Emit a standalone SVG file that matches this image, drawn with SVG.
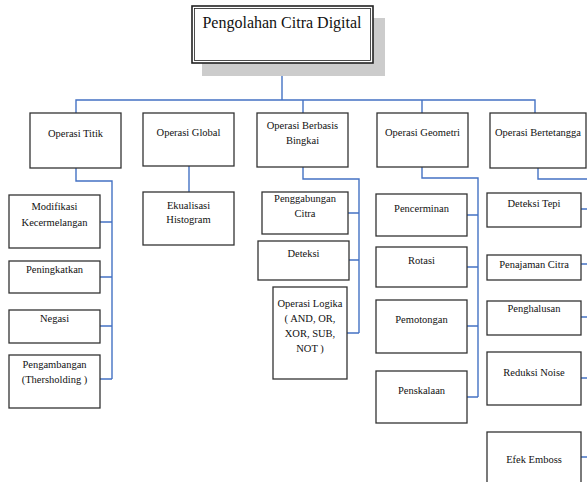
<svg xmlns="http://www.w3.org/2000/svg" width="587" height="482" viewBox="0 0 587 482" font-family="Liberation Serif, Times New Roman, serif">
<style>
.box{fill:#fff;stroke:#333;stroke-width:1.3}
.t{font-family:'Liberation Serif','Times New Roman',serif;font-size:10.5px;fill:#111;text-anchor:middle}
.c{fill:none;stroke:#4472C4;stroke-width:1.4}
</style>
<rect width="587" height="482" fill="#fff"/>
<g id="connectors">
<path class="c" d="M282,63 V100 M76,113 V100 H535 V113 M303,100 V113 M422,100 V113"/>
<path class="c" d="M76,168 V181 H112 V379 M100,222 H112 M100,277 H112 M100,326 H112 M100,379 H112"/>
<path class="c" d="M189,166 V192"/>
<path class="c" d="M303,167 V179 H359 V333 M348,213 H359 M349,260 H359 M347,333 H359"/>
<path class="c" d="M422,167 V178 H478 V397 M467,215 H478 M467,267 H478 M467,326 H478 M467,397 H478"/>
<path class="c" d="M538,168 V179 H587 M581,209 H587 M581,264 H587 M581,317 H587 M581,378 H587 M581,457 H587"/>
</g>
<g id="root">
<rect x="202" y="18" width="183" height="58" fill="#cccccc"/>
<rect x="192" y="6" width="181" height="57" fill="#fff" stroke="#222" stroke-width="1.6"/>
<rect x="194.5" y="8.5" width="176" height="52" fill="none" stroke="#222" stroke-width="0.8"/>
<text x="282" y="28" class="t" font-size="16" style="font-size:16px">Pengolahan Citra Digital</text>
</g>
<g id="titik"><rect class="box" x="30" y="113" width="91" height="55"/><text class="t" x="75.5" y="136.5">Operasi Titik</text></g>
<g id="global"><rect class="box" x="143" y="113" width="91" height="53"/><text class="t" x="188.5" y="135.5">Operasi Global</text></g>
<g id="bingkai"><rect class="box" x="257" y="113" width="91" height="54"/><text class="t" x="302.5" y="128.5">Operasi Berbasis</text><text class="t" x="302.5" y="143.5">Bingkai</text></g>
<g id="geometri"><rect class="box" x="377" y="113" width="91" height="54"/><text class="t" x="422.5" y="135.5">Operasi Geometri</text></g>
<g id="bertetangga"><rect class="box" x="490" y="113" width="96" height="55"/><text class="t" x="538" y="135.5">Operasi Bertetangga</text></g>

<g id="modifikasi"><rect class="box" x="9" y="195" width="91" height="53"/><text class="t" x="54.5" y="209.5">Modifikasi</text><text class="t" x="54.5" y="225.5">Kecermelangan</text></g>
<g id="peningkatkan"><rect class="box" x="9" y="261" width="91" height="32"/><text class="t" x="54.5" y="272.5">Peningkatkan</text></g>
<g id="negasi"><rect class="box" x="9" y="310" width="91" height="33"/><text class="t" x="54.5" y="321.5">Negasi</text></g>
<g id="pengambangan"><rect class="box" x="9" y="355" width="91" height="53"/><text class="t" x="54.5" y="367.5">Pengambangan</text><text class="t" x="54.5" y="382.5">(Thersholding )</text></g>

<g id="ekualisasi"><rect class="box" x="143" y="192" width="91" height="53"/><text class="t" x="188.5" y="208.5">Ekualisasi</text><text class="t" x="188.5" y="222.5">Histogram</text></g>

<g id="penggabungan"><rect class="box" x="262" y="192" width="86" height="42"/><text class="t" x="305" y="201.5">Penggabungan</text><text class="t" x="305" y="216.5">Citra</text></g>
<g id="deteksi"><rect class="box" x="258" y="241" width="91" height="39"/><text class="t" x="303.5" y="256.5">Deteksi</text></g>
<g id="logika"><rect class="box" x="273" y="287" width="74" height="92"/><text class="t" x="310" y="306.5">Operasi Logika</text><text class="t" x="310" y="321.5">( AND, OR,</text><text class="t" x="310" y="336.5">XOR, SUB,</text><text class="t" x="310" y="351.5">NOT )</text></g>

<g id="pencerminan"><rect class="box" x="376" y="194" width="91" height="42"/><text class="t" x="421.5" y="211.5">Pencerminan</text></g>
<g id="rotasi"><rect class="box" x="376" y="247" width="91" height="40"/><text class="t" x="421.5" y="263.5">Rotasi</text></g>
<g id="pemotongan"><rect class="box" x="376" y="300" width="91" height="53"/><text class="t" x="421.5" y="322.5">Pemotongan</text></g>
<g id="penskalaan"><rect class="box" x="376" y="371" width="91" height="52"/><text class="t" x="421.5" y="393.5">Penskalaan</text></g>

<g id="deteksitepi"><rect class="box" x="487" y="193" width="94" height="34"/><text class="t" x="534" y="206.5">Deteksi Tepi</text></g>
<g id="penajaman"><rect class="box" x="487" y="255" width="94" height="25"/><text class="t" x="534" y="267.5">Penajaman Citra</text></g>
<g id="penghalusan"><rect class="box" x="487" y="301" width="94" height="34"/><text class="t" x="534" y="311.5">Penghalusan</text></g>
<g id="reduksi"><rect class="box" x="487" y="352" width="94" height="53"/><text class="t" x="534" y="375.5">Reduksi Noise</text></g>
<g id="emboss"><rect class="box" x="487" y="432" width="94" height="60"/><text class="t" x="534" y="462.5">Efek Emboss</text></g>
</svg>
